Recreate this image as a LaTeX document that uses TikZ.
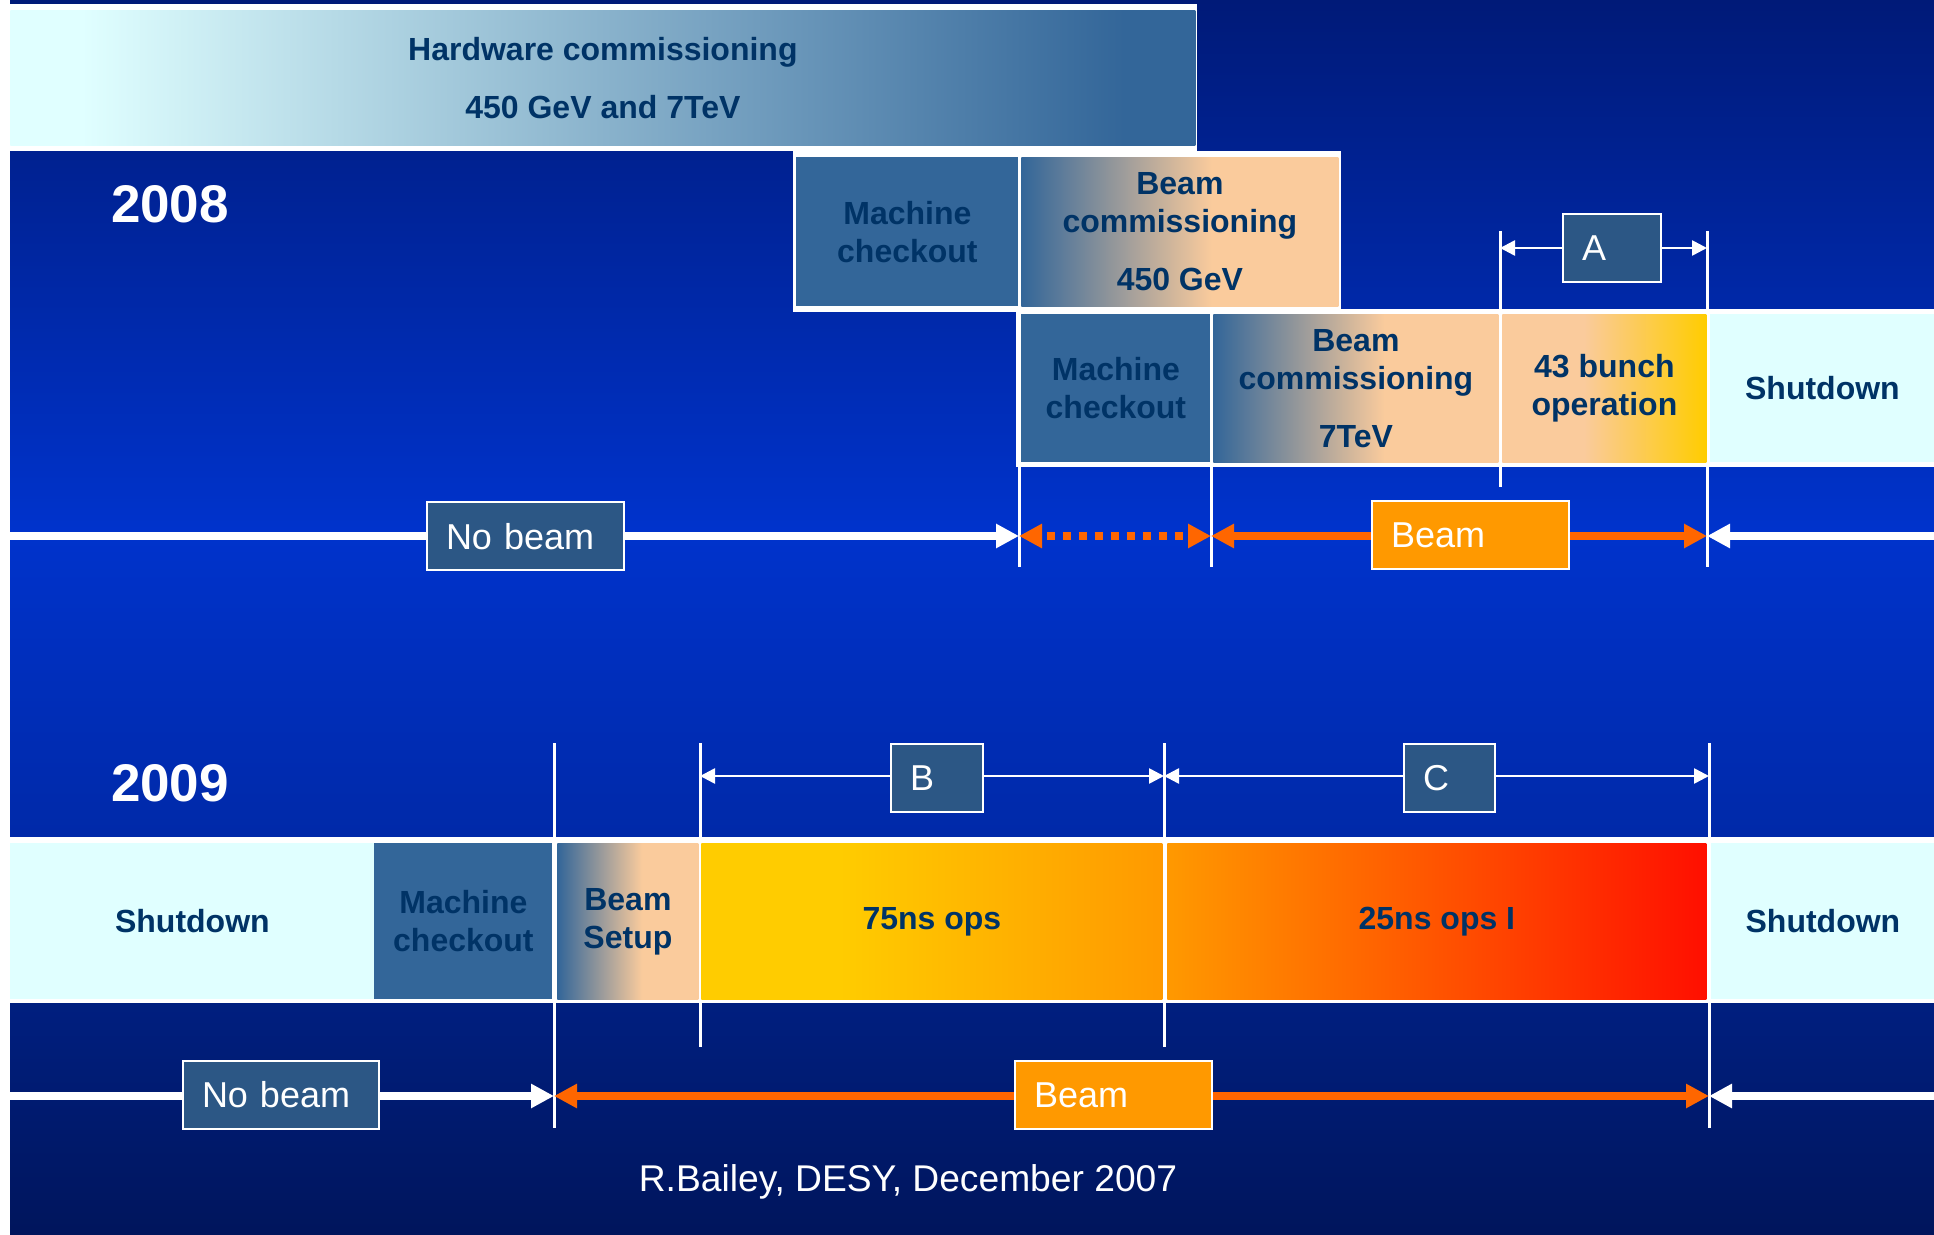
\documentclass[tikz,border=0pt]{standalone}
\usepackage{fontspec}
\setmainfont{Liberation Sans}
\usetikzlibrary{arrows.meta}
\definecolor{slidetop}{HTML}{001A78}
\definecolor{slideblue}{HTML}{0033CC}
\definecolor{slidelow}{HTML}{0029A8}
\definecolor{panelhi}{HTML}{001F80}
\definecolor{panellow}{HTML}{00155C}
\definecolor{steel}{HTML}{336699}
\definecolor{tagblue}{HTML}{2C5785}
\definecolor{navytext}{HTML}{003366}
\definecolor{peach}{HTML}{FACB9C}
\definecolor{icecyan}{HTML}{E0FFFF}
\definecolor{gold}{HTML}{FFCC00}
\definecolor{amber}{HTML}{FF9900}
\definecolor{beamline}{HTML}{FF6600}
\definecolor{hotred}{HTML}{FF0F00}

\pgfdeclarehorizontalshading{hwshade}{100bp}{color(0bp)=(icecyan); color(28bp)=(icecyan); color(72bp)=(steel); color(100bp)=(steel)}
\pgfdeclarehorizontalshading{bcshade}{100bp}{color(0bp)=(steel); color(25bp)=(steel); color(55bp)=(peach); color(100bp)=(peach)}
\pgfdeclarehorizontalshading{bunchshade}{100bp}{color(0bp)=(peach); color(45bp)=(peach); color(75bp)=(gold); color(100bp)=(gold)}
\pgfdeclarehorizontalshading{opsshade}{100bp}{color(0bp)=(gold); color(40bp)=(gold); color(75bp)=(amber); color(100bp)=(amber)}
\pgfdeclarehorizontalshading{hotshade}{100bp}{color(0bp)=(amber); color(25bp)=(amber); color(75bp)=(hotred); color(100bp)=(hotred)}

\begin{document}
\begin{tikzpicture}[
  x=0.5pt, y=-0.5pt,
  font=\fontsize{16}{19}\selectfont\bfseries,
  stage/.style={inner sep=0pt, anchor=north west, align=center, text=navytext},
  tag/.style={draw=white, line width=1pt, fill=tagblue, text=white, align=left,
              inner xsep=9.5pt, inner ysep=0pt, minimum height=34pt,
              font=\fontsize{18}{21}\selectfont},
  beamtag/.style={tag, fill=amber},
  year/.style={text=white, font=\fontsize{26.5}{30}\selectfont\bfseries},
  vtick/.style={white, line width=1.5pt},
  wbeam/.style={white, line width=4pt, -{Triangle[length=11.5pt,width=11.5pt]}},
  obeam/.style={beamline, line width=4pt,
                {Triangle[length=11.5pt,width=11.5pt]}-{Triangle[length=11.5pt,width=11.5pt]}},
  spanarrow/.style={white, line width=1.3pt,
                    {Triangle[length=7.5pt,width=7.5pt]}-{Triangle[length=7.5pt,width=7.5pt]}},
]
\useasboundingbox (0,0) rectangle (1934,1235);
\fill[white] (0,0) rectangle (1934,1235);

% slide background
\shade[top color=slidetop, bottom color=slideblue] (10,0) rectangle (1934,530);
\shade[top color=slideblue, bottom color=slidelow] (10,530) rectangle (1934,840);
\shade[top color=panelhi, bottom color=panellow] (10,1000) rectangle (1934,1235);

% time marks
\draw[vtick] (1500,231) -- (1500,487);
\draw[vtick] (1707,231) -- (1707,567);
\draw[vtick] (1019,462) -- (1019,567);
\draw[vtick] (1211,462) -- (1211,567);
\draw[vtick] (554,743) -- (554,1128);
\draw[vtick] (700,743) -- (700,1047);
\draw[vtick] (1164,743) -- (1164,1047);
\draw[vtick] (1709,743) -- (1709,1128);

% white frames
\fill[white] (10,4) rectangle (1197,151);
\fill[white] (793,151) rectangle (1341,312);
\fill[white] (1016,309) rectangle (1934,467);
\fill[white] (10,837) rectangle (1934,1003);

% 2008 stages
\node[stage, shading=hwshade, minimum width=592.5pt, minimum height=67.5pt] (hwc) at (10,10)
  {Hardware commissioning\\[10pt]450 GeV and 7TeV};
\node[stage, fill=steel, minimum width=111pt, minimum height=74.5pt] (mc450) at (796,157)
  {Machine\\checkout};
\node[stage, shading=bcshade, minimum width=158.5pt, minimum height=74.5pt] (bc450) at (1021,157)
  {Beam\\commissioning\\[10pt]450 GeV};
\node[stage, fill=steel, minimum width=94.5pt, minimum height=74pt] (mc7) at (1021,314)
  {Machine\\checkout};
\node[stage, shading=bcshade, minimum width=142.5pt, minimum height=74pt] (bc7) at (1213,314)
  {Beam\\commissioning\\[10pt]7TeV};
\node[stage, shading=bunchshade, minimum width=102pt, minimum height=74pt] (bunch) at (1502,314)
  {43 bunch\\operation};
\node[stage, fill=icecyan, minimum width=112pt, minimum height=74pt] (sd8) at (1710,314)
  {Shutdown};

% 2009 stages
\node[stage, fill=icecyan, minimum width=182pt, minimum height=78pt] (sd9a) at (10,843) {Shutdown};
\node[stage, fill=steel, minimum width=89pt, minimum height=78pt] (mc9) at (374,843) {Machine\\checkout};
\node[stage, shading=bcshade, minimum width=70.5pt, minimum height=78pt] (setup9) at (557,843) {Beam\\Setup};
\node[stage, shading=opsshade, minimum width=230.5pt, minimum height=78pt] (ops75) at (701,843) {75ns ops};
\node[stage, shading=hotshade, minimum width=269.5pt, minimum height=78pt] (ops25) at (1167,843) {25ns ops I};
\node[stage, fill=icecyan, minimum width=111.5pt, minimum height=78pt] (sd9b) at (1711,843) {Shutdown};

% beam lines
\coordinate (nb8start) at (10,536);
\coordinate (t8mc) at (1019,536);
\coordinate (t8bc) at (1211,536);
\coordinate (t8end) at (1707,536);
\coordinate (nb8stop) at (1934,536);
\draw[wbeam] (nb8start) -- (t8mc);
\draw[obeam, dash pattern=on 4pt off 4pt, dash phase=5pt] (t8mc) -- (t8bc);
\draw[obeam] (t8bc) -- (t8end);
\draw[wbeam] (nb8stop) -- (t8end);

\coordinate (nb9start) at (10,1096);
\coordinate (t9mc) at (554,1096);
\coordinate (t9end) at (1709,1096);
\coordinate (nb9stop) at (1934,1096);
\draw[wbeam] (nb9start) -- (t9mc);
\draw[obeam] (t9mc) -- (t9end);
\draw[wbeam] (nb9stop) -- (t9end);

% periods
\coordinate (a8l) at (1500,248);
\coordinate (a8r) at (1707,248);
\coordinate (b9l) at (700,776);
\coordinate (b9r) at (1164,776);
\coordinate (c9r) at (1709,776);
\draw[spanarrow] (a8l) -- (a8r);
\draw[spanarrow] (b9l) -- (b9r);
\draw[spanarrow] (b9r) -- (c9r);

\node[tag, text width=30pt] (perA) at (1612,248) {A};
\node[tag, text width=27pt] (perB) at (937,778) {B};
\node[tag, text width=26.5pt] (perC) at (1449.5,778) {C};

\node[tag, text width=79.5pt] (nobeam8) at (525.5,536.5) {No beam};
\node[beamtag, text width=79.5pt] (beam8) at (1470.5,535.5) {Beam};
\node[tag, text width=79pt] (nobeam9) at (281,1095) {No beam};
\node[beamtag, text width=79.5pt] (beam9) at (1113.5,1095) {Beam};

% labels
\node[year] (y2008) at (170,204) {2008};
\node[year] (y2009) at (170,783) {2009};
\node[text=white, font=\fontsize{18.6}{22}\selectfont] (credit) at (908,1182)
  {R.Bailey, DESY, December 2007};

\end{tikzpicture}
\end{document}
